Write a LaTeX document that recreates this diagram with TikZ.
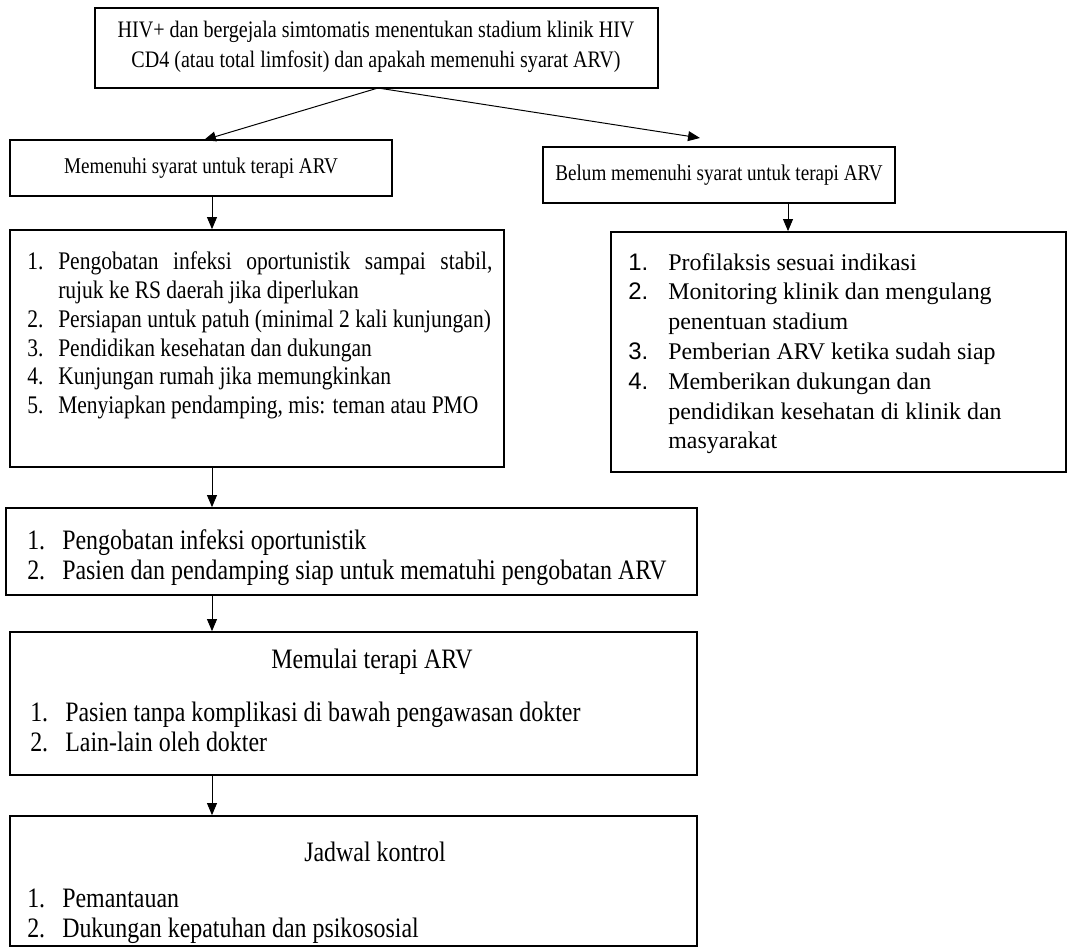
\documentclass[tikz,border=0pt]{standalone}
\usepackage{fontspec}
\setmainfont{Liberation Serif}
\newfontfamily\cnd[FakeStretch=0.85]{Liberation Serif}
\newfontfamily\snum{Liberation Sans}
\usetikzlibrary{fit,arrows.meta}
\newlength\numw
\newcommand\li[2]{\par\noindent\hangindent=\numw\hangafter=1\makebox[\numw][l]{#1}#2\par}
\begin{document}
\begin{tikzpicture}[x=0.025cm,y=-0.025cm,
  box/.style={draw, line width=1.2pt, inner sep=0pt},
  conn/.style={line width=0.7pt, -{Triangle[length=8.5pt,width=7pt]}},
  txt/.style={inner sep=0pt},
  bigf/.style={font=\cnd\fontsize{20}{21.3}\selectfont}]
\useasboundingbox (0,0) rectangle (1069,951);
% boxes
\node[box, fit={(95,8)(658,88)}] (top) {};
\node[box, fit={(10,140)(392,196)}] (yes) {};
\node[box, fit={(543,147)(895,203)}] (no) {};
\node[box, fit={(10,230)(504,467)}] (prep) {};
\node[box, fit={(611,232)(1066,472)}] (wait) {};
\node[box, fit={(6,508)(697,595)}] (ready) {};
\node[box, fit={(10,632)(697,775)}] (start) {};
\node[box, fit={(10,816)(697,946)}] (ctrl) {};
% texts
\node[txt, align=center, font=\cnd\fontsize{16.8}{21.5}\selectfont] (toptxt) at (376,47) {HIV+ dan bergejala simtomatis menentukan stadium klinik HIV\\CD4 (atau total limfosit) dan apakah memenuhi syarat ARV)};
\node[txt, font=\cnd\fontsize{16}{19}\selectfont] (yestxt) at (201,168) {Memenuhi syarat untuk terapi ARV};
\node[txt, font=\cnd\fontsize{16}{19}\selectfont] (notxt) at (719,175) {Belum memenuhi syarat untuk terapi ARV};
\node[txt, anchor=north west, text width=11.625cm, align=justify, font=\cnd\fontsize{18}{20.4}\selectfont] (preptxt) at (27,241) {\setlength\numw{0.775cm}%
\li{1.}{Pengobatan infeksi oportunistik sampai stabil,\linebreak rujuk ke RS daerah jika diperlukan}%
\li{2.}{Persiapan untuk patuh (minimal 2 kali kunjungan)}%
\li{3.}{Pendidikan kesehatan dan dukungan}%
\li{4.}{Kunjungan rumah jika memungkinkan}%
\li{5.}{Menyiapkan pendamping, mis: teman atau PMO}};
\node[txt, anchor=north west, text width=10.5cm, align=flush left, font=\fontsize{17}{21.2}\selectfont] (waittxt) at (628,240) {\setlength\numw{1cm}%
\li{\snum 1.}{Profilaksis sesuai indikasi}%
\li{\snum 2.}{Monitoring klinik dan mengulang\newline penentuan stadium}%
\li{\snum 3.}{Pemberian ARV ketika sudah siap}%
\li{\snum 4.}{Memberikan dukungan dan\newline pendidikan kesehatan di klinik dan\newline masyarakat}};
\node[txt, anchor=north west, text width=17cm, align=flush left, bigf] (readytxt) at (27,519) {\setlength\numw{0.875cm}%
\li{1.}{Pengobatan infeksi oportunistik}%
\li{2.}{Pasien dan pendamping siap untuk mematuhi pengobatan ARV}};
\node[txt, bigf] (starttitle) at (372,662) {Memulai terapi ARV};
\node[txt, anchor=north west, text width=17cm, align=flush left, bigf] (starttxt) at (30,691) {\setlength\numw{0.875cm}%
\li{1.}{Pasien tanpa komplikasi di bawah pengawasan dokter}%
\li{2.}{Lain-lain oleh dokter}};
\node[txt, bigf] (ctrltitle) at (375,852) {Jadwal kontrol};
\node[txt, anchor=north west, text width=17cm, align=flush left, bigf] (ctrltxt) at (27,877) {\setlength\numw{0.875cm}%
\li{1.}{Pemantauan}%
\li{2.}{Dukungan kepatuhan dan psikososial}};
% connectors
\coordinate (tb) at (378,88);
\coordinate (yt) at (204,140);
\coordinate (nt) at (700,138);
\draw[conn] (tb) -- (yt);
\draw[conn] (tb) -- (nt);
\draw[conn] (yes.south -| 212,0) -- (prep.north -| 212,0);
\draw[conn] (no.south -| 788,0) -- (wait.north -| 788,0);
\draw[conn] (prep.south -| 212,0) -- (ready.north -| 212,0);
\draw[conn] (ready.south -| 212,0) -- (start.north -| 212,0);
\draw[conn] (start.south -| 212,0) -- (ctrl.north -| 212,0);
\end{tikzpicture}
\end{document}
